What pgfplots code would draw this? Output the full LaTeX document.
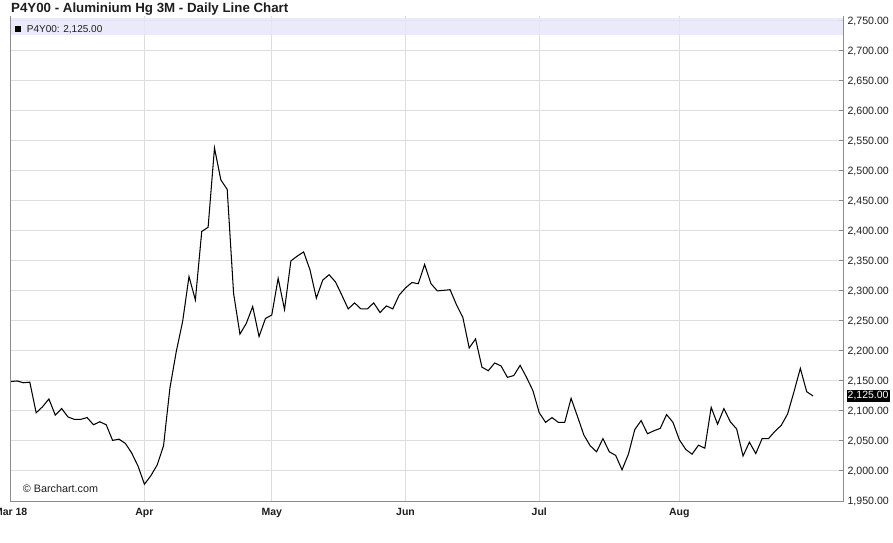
\documentclass[border=0pt]{standalone}
\usepackage{pgfplots}
\pgfplotsset{compat=1.18}
\usepackage{fontspec}
\setmainfont{Liberation Sans}
\definecolor{gridc}{RGB}{221,221,221}
\definecolor{axc}{RGB}{140,140,140}
\definecolor{bandc}{RGB}{230,230,250}
\definecolor{txt}{RGB}{30,30,30}
\pgfplotstableread{
i v
0 2149
1 2150
2 2147
3 2148
4 2097
5 2107
6 2120
7 2093
8 2104
9 2090
10 2086
11 2086
12 2089
13 2077
14 2082
15 2077
16 2051
17 2053
18 2046
19 2030
20 2008
21 1978
22 1992
23 2010
24 2042
25 2138
26 2199
27 2249
28 2324
29 2285
30 2399
31 2406
32 2538
33 2485
34 2469
35 2296
36 2228
37 2246
38 2274
39 2224
40 2254
41 2260
42 2321
43 2269
44 2350
45 2358
46 2365
47 2335
48 2288
49 2318
50 2327
51 2315
52 2293
53 2270
54 2280
55 2270
56 2270
57 2280
58 2264
59 2275
60 2270
61 2293
62 2305
63 2314
64 2312
65 2344
66 2312
67 2300
68 2301
69 2302
70 2277
71 2256
72 2205
73 2220
74 2173
75 2167
76 2180
77 2175
78 2156
79 2159
80 2176
81 2156
82 2134
83 2097
84 2081
85 2089
86 2081
87 2081
88 2121
89 2091
90 2060
91 2042
92 2032
93 2054
94 2032
95 2026
96 2002
97 2028
98 2069
99 2084
100 2062
101 2067
102 2071
103 2094
104 2081
105 2052
106 2036
107 2028
108 2043
109 2038
110 2106
111 2078
112 2104
113 2082
114 2070
115 2025
116 2048
117 2029
118 2054
119 2054
120 2066
121 2076
122 2095
123 2132
124 2171
125 2132
126 2125
}\datatable
\begin{document}
\begin{tikzpicture}
\begin{axis}[
  at={(0pt,0pt)}, anchor=south west,
  scale only axis, width=832.3pt, height=485pt,
  xmin=0, xmax=130.7, ymin=1950, ymax=2758,
  axis line style={draw=none},
  xtick={0,21,41,62,83,105},
  xticklabels={Mar 18,Apr,May,Jun,Jul,Aug},
  xticklabel style={font=\fontsize{10.5}{12}\selectfont\bfseries, text=txt, anchor=base, yshift=-14pt},
  ytick={1950,2000,...,2750},
  scaled y ticks=false,
  yticklabel pos=right, ytick pos=right,
  yticklabel style={font=\fontsize{10.6}{12}\selectfont, text=txt, anchor=base west, yshift=-3.8pt, xshift=1pt,
    /pgf/number format/fixed, /pgf/number format/fixed zerofill, /pgf/number format/precision=2,
    /pgf/number format/1000 sep={,}, /pgf/number format/assume math mode=true},
  grid=major, major grid style={gridc, line width=1pt},
  major x tick style={draw=none},
  major y tick style={axc, line width=1pt},
  tick align=inside, major tick length=4pt,
]
\fill[bandc, opacity=0.85] (axis cs:-10,2727) rectangle (axis cs:130.7,2755);
\addplot[black, line width=1.05pt, mark=none] table[x=i, y=v] {\datatable};
\end{axis}
\draw[axc, line width=1pt] (0pt,485pt) -- (0pt,0pt) -- (832.3pt,0pt) -- (832.3pt,485pt);
\fill[black] (4.5pt,468.7pt) rectangle (10.5pt,474.7pt);
\node[anchor=base west, inner sep=0pt, text=txt, font=\fontsize{10}{12}\selectfont] at (16pt,468.5pt) {P4Y00: 2,125.00};
\node[anchor=base west, inner sep=0pt, text=txt, font=\fontsize{13.3}{15}\selectfont\bfseries] at (0.3pt,488.7pt) {P4Y00 - Aluminium Hg 3M - Daily Line Chart};
\node[anchor=base west, inner sep=0pt, text=txt, font=\fontsize{10.8}{13}\selectfont] at (12pt,9pt) {© Barchart.com};
\node[anchor=west, fill=black, text=white, inner xsep=1pt, inner ysep=1.5pt, font=\fontsize{10.5}{12}\selectfont] at (835.8pt,105pt) {2,125.00};
\pgfresetboundingbox
\path[use as bounding box] (-10.7pt,-41pt) rectangle (882.3pt,501pt);
\end{tikzpicture}
\end{document}
